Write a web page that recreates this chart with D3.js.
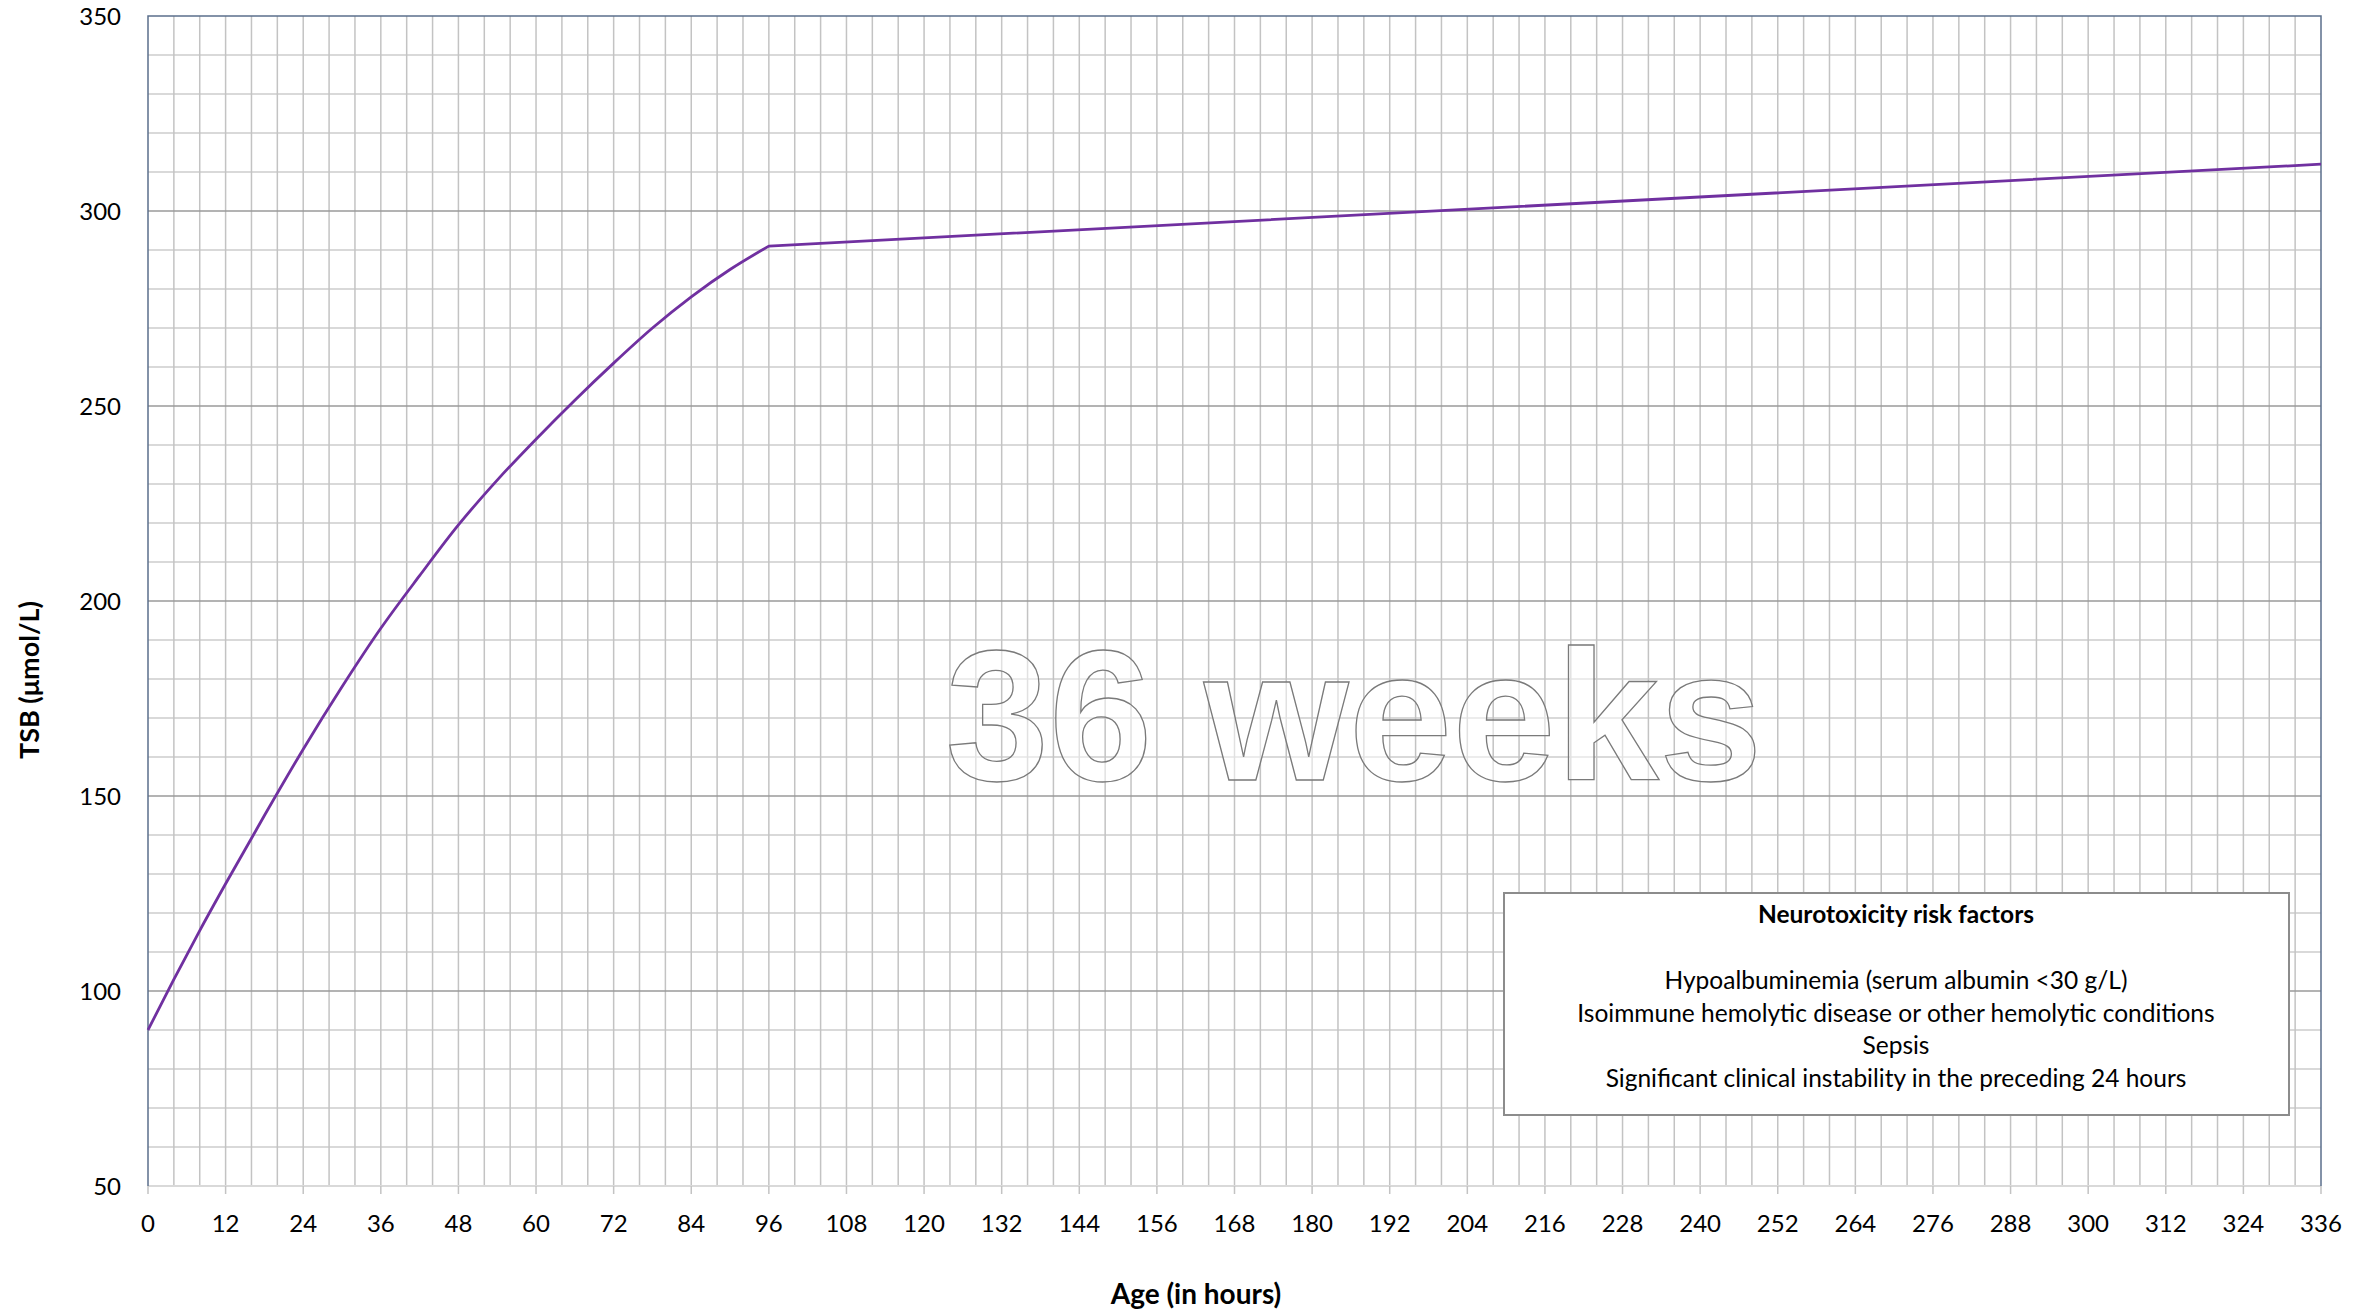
<!DOCTYPE html>
<html>
<head>
<meta charset="utf-8">
<script src="https://cdn.jsdelivr.net/npm/d3@7"></script>
<style>
  html, body { margin: 0; padding: 0; background: #fff; }
  svg { display: block; font-family: Lato, "Open Sans", sans-serif; }
</style>
</head>
<body>
<svg id="chart" width="2374" height="1310"></svg>
<script>
// threshold line (hours -> TSB umol/L)
var hours = [0, 4, 8, 12, 18, 24, 30, 36, 42, 48, 54, 60, 66, 72, 78, 84, 90, 96];
var tsb = [90, 103, 115.5, 127.5, 145, 162, 178, 193, 206.5, 219.5, 231, 241.5, 251.5, 261, 270, 278, 285, 291];
// after 96 h the line is straight
var lateHours = [96, 336];
var lateTsb = [291, 312];

var xTicks = d3.range(0, 337, 12);
var yTicks = [50, 100, 150, 200, 250, 300, 350];

var riskTitle = "Neurotoxicity risk factors";
var riskFactors = [
  "Hypoalbuminemia (serum albumin <30 g/L)",
  "Isoimmune hemolytic disease or other hemolytic conditions",
  "Sepsis",
  "Significant clinical instability in the preceding 24 hours"
];
var watermark = "36 weeks";

var margin = { left: 148, right: 53, top: 16, bottom: 124 };
var W = 2374, H = 1310;
var svg = d3.select('#chart');

var x = d3.scaleLinear().domain([0, 336]).range([margin.left, W - margin.right]);
var y = d3.scaleLinear().domain([50, 350]).range([H - margin.bottom, margin.top]);

var g = svg.append('g');

// minor horizontal grid
g.selectAll('.hmin')
  .data(d3.range(60, 350, 10).filter(function (d) { return d % 50 !== 0; }))
  .enter().append('line')
  .attr('x1', x(0)).attr('x2', x(336))
  .attr('y1', function (d) { return y(d); }).attr('y2', function (d) { return y(d); })
  .style('stroke', '#d9d9d9').style('stroke-width', 2);

// vertical grid every 4 hours
g.selectAll('.vgrid')
  .data(d3.range(4, 336, 4))
  .enter().append('line')
  .attr('x1', function (d) { return x(d); }).attr('x2', function (d) { return x(d); })
  .attr('y1', y(350)).attr('y2', y(50))
  .style('stroke', '#c3c3c3').style('stroke-width', 1.5);

// major horizontal grid
g.selectAll('.hmaj')
  .data([100, 150, 200, 250, 300])
  .enter().append('line')
  .attr('x1', x(0)).attr('x2', x(336))
  .attr('y1', function (d) { return y(d); }).attr('y2', function (d) { return y(d); })
  .style('stroke', '#9a9a9a').style('stroke-width', 1.5);

// bottom line + ticks
g.append('line')
  .attr('x1', x(0)).attr('x2', x(336)).attr('y1', y(50)).attr('y2', y(50))
  .style('stroke', '#d9d9d9').style('stroke-width', 2);
g.selectAll('.xtick')
  .data(xTicks)
  .enter().append('line')
  .attr('x1', function (d) { return x(d); }).attr('x2', function (d) { return x(d); })
  .attr('y1', y(50)).attr('y2', y(50) + 8)
  .style('stroke', '#c3c3c3').style('stroke-width', 1.5);

// frame
g.append('path')
  .attr('d', 'M' + x(0) + ',' + y(50) + 'V' + y(350) + 'H' + x(336) + 'V' + y(50))
  .style('fill', 'none').style('stroke', '#5b6f8c').style('stroke-width', 1.5);

// watermark
svg.append('text')
  .attr('x', 1354).attr('y', 780)
  .attr('text-anchor', 'middle')
  .style('font-family', '"Liberation Sans", Arial, sans-serif')
  .style('font-weight', 'bold')
  .style('font-size', '186px')
  .style('fill', '#ffffff').style('fill-opacity', 0.5)
  .style('stroke', '#7a7a7a').style('stroke-width', 1.3)
  .text(watermark);

// threshold line
var early = d3.line()
  .curve(d3.curveMonotoneX)
  .x(function (d, i) { return x(hours[i]); })
  .y(function (d) { return y(d); });
var late = d3.line()
  .x(function (d, i) { return x(lateHours[i]); })
  .y(function (d) { return y(d); });
svg.append('path')
  .datum(tsb)
  .attr('d', early(tsb) + late(lateTsb).replace('M', 'L'))
  .style('fill', 'none').style('stroke', '#7030a0').style('stroke-width', 2.8)
  .style('stroke-linejoin', 'round');

// axis labels
svg.selectAll('.xl')
  .data(xTicks)
  .enter().append('text')
  .attr('x', function (d) { return x(d); })
  .attr('y', y(50) + 46)
  .attr('text-anchor', 'middle')
  .style('font-size', '24px').style('fill', '#000')
  .text(function (d) { return d; });

svg.selectAll('.yl')
  .data(yTicks)
  .enter().append('text')
  .attr('x', 121)
  .attr('y', function (d) { return y(d) + 9; })
  .attr('text-anchor', 'end')
  .style('font-size', '24px').style('fill', '#000')
  .text(function (d) { return d; });

svg.append('text')
  .attr('transform', 'translate(39,680) rotate(-90)')
  .attr('text-anchor', 'middle')
  .style('font-size', '27px').style('font-weight', 'bold')
  .text('TSB (μmol/L)');

svg.append('text')
  .attr('x', 1196).attr('y', 1304)
  .attr('text-anchor', 'middle')
  .style('font-size', '28px').style('font-weight', 'bold')
  .text('Age (in hours)');

// risk factor box
var box = svg.append('g').attr('transform', 'translate(1504,893)');
box.append('rect')
  .attr('width', 785).attr('height', 222)
  .style('fill', '#fff').style('stroke', '#8c8c8c').style('stroke-width', 2);
box.append('text')
  .attr('x', 392).attr('y', 30)
  .attr('text-anchor', 'middle')
  .style('font-size', '24.5px').style('font-weight', 'bold')
  .text(riskTitle);
box.selectAll('.rf')
  .data(riskFactors)
  .enter().append('text')
  .attr('x', 392)
  .attr('y', function (d, i) { return 96 + i * 32.5; })
  .attr('text-anchor', 'middle')
  .style('font-size', '24.5px')
  .text(function (d) { return d; });
</script>
</body>
</html>
